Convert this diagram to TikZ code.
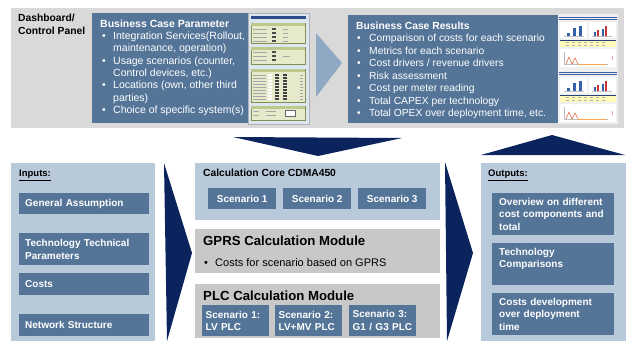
\documentclass[tikz,border=0pt]{standalone}
\usepackage{fontspec}
\setmainfont{Liberation Sans}
\definecolor{boxblue}{RGB}{84,117,152}
\definecolor{navy}{RGB}{12,36,94}
\definecolor{panelblue}{RGB}{184,201,218}
\definecolor{modgray}{RGB}{200,200,200}
\definecolor{dashgray}{RGB}{217,217,217}
\definecolor{lightarrow}{RGB}{143,168,196}
\definecolor{thumbbg}{RGB}{220,230,241}
\definecolor{formgreen}{RGB}{229,234,203}
\definecolor{formedge}{RGB}{128,143,80}
\definecolor{formhead}{RGB}{190,200,140}
\definecolor{chartblue}{RGB}{54,96,170}
\definecolor{chartred}{RGB}{200,50,50}
\definecolor{stripyellow}{RGB}{255,250,185}
\newcommand\bulA{\hspace*{2pt}\makebox[11pt][l]{•}}
\newcommand\indA{\hspace*{13pt}}
\newcommand\bulB{\hspace*{1pt}\makebox[12pt][l]{•}}
% fixes the height of a first line, so that its baseline lies 10pt below the node top
\newcommand\firstline{\rule{0pt}{10pt}}
\begin{document}
\begin{tikzpicture}[x=1pt,y=-1pt,
  bx/.style={fill=boxblue, text=white, font=\bfseries\fontsize{10}{12.5}\selectfont,
    inner ysep=0pt, inner xsep=6pt, anchor=north west, align=left},
  scen/.style={fill=boxblue, text=white, font=\bfseries\fontsize{10}{12.5}\selectfont,
    inner sep=0pt, anchor=north west, align=center, minimum width=68pt, minimum height=21pt},
  plcscen/.style={bx, inner xsep=3.5pt, minimum width=67pt, text width=60pt, minimum height=31pt},
  outbox/.style={bx, inner xsep=7pt, minimum width=122pt, text width=108pt, minimum height=42pt},
  inbox/.style={bx, minimum width=130pt, text width=118pt},
  plain/.style={inner sep=0pt, anchor=base west, align=left},
  block/.style={inner sep=0pt, anchor=north west, align=left},
  panel/.style={fill=panelblue, inner sep=0pt, anchor=north west},
  module/.style={fill=modgray, inner sep=0pt, anchor=north west, minimum width=245pt},
  bigbox/.style={fill=boxblue, inner sep=0pt, anchor=north west},
  formrow/.style={gray!70, line width=0.6pt}]

\useasboundingbox (0,0) rectangle (626,341);

% ---------- dashboard / control panel ----------
\node[fill=dashgray, inner sep=0pt, anchor=north west, minimum width=613pt, minimum height=120pt] (dash) at (11,8) {};
\node[block, font=\bfseries\fontsize{10.3}{13}\selectfont] (dashlabel) at (18,11) {\firstline Dashboard/\\Control Panel};

\node[bigbox, minimum width=158pt, minimum height=110pt] (bcp) at (92,13) {};
\node[block, text=white, font=\fontsize{10.5}{12.3}\selectfont] (bcptext) at (100,17)
  {\firstline\textbf{Business Case Parameter}\\
   \bulA Integration  Services(Rollout,\\
   \indA maintenance, operation)\\
   \bulA Usage scenarios (counter,\\
   \indA Control devices, etc.)\\
   \bulA Locations (own, other third\\
   \indA parties)\\
   \bulA Choice of specific system(s)};

% parameter form thumbnail
\fill[thumbbg] (248,13) rectangle (309,124);
\draw[gray!60, line width=0.4pt] (248,13) rectangle (309,124);
\fill[chartblue!80!black] (251,16) rectangle (306,19);
\foreach \ya/\yb in {23/43, 47/64, 69/102, 106/120} {
  \filldraw[fill=formgreen, draw=formedge, line width=0.4pt] (251,\ya) rectangle (305,\yb);
  \fill[formhead] (251.3,\ya+0.3) rectangle (304.7,\ya+3);
}
\foreach \r in {29,33,37,41} {
  \draw[formrow] (253,\r) -- (267,\r);
  \fill[black!70] (272,\r-1.2) rectangle (276,\r+1.2);
  \draw[formrow] (283,\r) -- (288,\r);
}
\foreach \r in {52,56,60} {
  \draw[formrow] (253,\r) -- (267,\r);
  \fill[black!70] (272,\r-1.2) rectangle (276,\r+1.2);
}
\draw[formrow] (283,56) -- (290,56);
\foreach \r in {75,78,81,84,87,90,93,96,99} {
  \draw[formrow] (253,\r) -- (266,\r);
  \fill[white] (268,\r-1.1) rectangle (272,\r+1.1);
  \fill[black!75] (275,\r-1.1) rectangle (279,\r+1.1);
  \fill[black!75] (283,\r-1.1) rectangle (287,\r+1.1);
  \draw[formrow] (300,\r) -- (303,\r);
}
\foreach \r in {111,115} {
  \draw[formrow] (253,\r) -- (259,\r);
  \draw[formrow] (266,\r) -- (276,\r);
}
\filldraw[fill=white, draw=black!60, line width=0.4pt] (285,110) rectangle (295,116);

\fill[lightarrow] (316,33) -- (342,63) -- (316,97) -- cycle;

\node[bigbox, minimum width=210pt, minimum height=108pt] (bcr) at (348,15) {};
\node[block, text=white, font=\fontsize{10.3}{12.5}\selectfont] (bcrtext) at (356,19)
  {\firstline\textbf{Business Case Results}\\
   \bulB Comparison of costs for each scenario\\
   \bulB Metrics for each scenario\\
   \bulB Cost drivers / revenue drivers\\
   \bulB Risk assessment\\
   \bulB Cost per meter reading\\
   \bulB Total CAPEX per technology\\
   \bulB Total OPEX over deployment time, etc.};

% results report thumbnail
\fill[gray!12] (558,14) rectangle (618,124);
\foreach \y in {16,71} {
  \draw[chartblue, line width=0.8pt] (559,\y+1) -- (617,\y+1);
  \draw[chartblue, line width=0.8pt] (559,\y+3.5) -- (617,\y+3.5);
  \fill[white] (560,\y+6) rectangle (587,\y+22);
  \fill[white] (589,\y+6) rectangle (616,\y+22);
  \fill[chartblue] (567,\y+17) rectangle (569.5,\y+20);
  \fill[chartblue] (573,\y+12) rectangle (575.5,\y+20);
  \fill[chartblue] (579,\y+10) rectangle (581.5,\y+20);
  \fill[chartblue] (594,\y+16) rectangle (596,\y+20);
  \fill[chartred] (597,\y+14) rectangle (599,\y+20);
  \fill[chartblue] (602,\y+13) rectangle (604,\y+20);
  \fill[chartred] (605,\y+10) rectangle (607,\y+20);
  \draw[gray!50, line width=0.3pt] (564,\y+20.3) -- (584,\y+20.3) (592,\y+20.3) -- (612,\y+20.3);
  \fill[stripyellow] (560,\y+24) rectangle (616,\y+31);
  \draw[chartblue!70!black, line width=0.6pt] (560,\y+24) -- (616,\y+24);
  \foreach \t in {566,572,578,584,590,596,602} {
    \draw[gray!60, line width=0.5pt] (\t,\y+26.5) -- (\t+3,\y+26.5) (\t,\y+29) -- (\t+3,\y+29);
  }
  \fill[white] (560,\y+33) rectangle (616,\y+51);
  \draw[gray!50, line width=0.3pt] (564,\y+36) -- (564,\y+48) -- (608,\y+48);
  \draw[chartred!70!orange, line width=0.45pt] (566,\y+48) -- (569,\y+41) -- (572,\y+48) -- (575,\y+42) -- (578,\y+48);
  \draw[orange!70, line width=0.4pt] (578,\y+48) -- (606,\y+48);
  \draw[chartred!40, line width=0.5pt] (612,\y+40) -- (612,\y+44);
}

% ---------- inputs ----------
\node[panel, minimum width=144pt, minimum height=178pt] (inputs) at (11,163) {};
\node[plain, font=\bfseries\fontsize{9.5}{12}\selectfont] (inlabel) at (19,176.5) {\underline{Inputs:}};
\node[inbox, minimum height=21pt] (ga) at (19,193) {General  Assumption};
\node[inbox, minimum height=32pt] (ttp) at (19,233) {Technology Technical\\Parameters};
\node[inbox, minimum height=22pt] (costs) at (19,273) {Costs};
\node[inbox, minimum height=22pt] (net) at (19,314) {Network Structure};

% flow chevrons
\fill[navy] (164,163) -- (192,253) -- (167,341) -- cycle;
\fill[navy] (445,162) -- (473,253) -- (447,341) -- cycle;
\fill[navy] (233,137) -- (402,138) -- (318,156) -- cycle;
\fill[navy] (481,155) -- (552,135) -- (625,155) -- cycle;

% ---------- calculation core ----------
\node[panel, minimum width=245pt, minimum height=57pt] (core) at (195,163) {};
\node[plain, font=\bfseries\fontsize{10.3}{12.5}\selectfont] (corelabel) at (203,176.7) {Calculation Core CDMA450};
\node[scen] (s1) at (208,188) {Scenario 1};
\node[scen] (s2) at (283,188) {Scenario 2};
\node[scen] (s3) at (358,188) {Scenario 3};

\node[module, minimum height=44pt] (gprs) at (195,229) {};
\node[plain, font=\bfseries\fontsize{13.2}{15}\selectfont] (gprslabel) at (203,245.7) {GPRS Calculation Module};
\node[plain, font=\fontsize{11}{13}\selectfont] (gprstext) at (204,266) {\makebox[11pt][l]{•}Costs for scenario based on GPRS};

\node[module, minimum height=54pt] (plc) at (195,284) {};
\node[plain, font=\bfseries\fontsize{13.2}{15}\selectfont] (plclabel) at (203,300.7) {PLC Calculation Module};
\node[plcscen] (p1) at (202,305) {Scenario 1:\\LV PLC};
\node[plcscen] (p2) at (275,305) {Scenario 2:\\LV+MV PLC};
\node[plcscen] (p3) at (349,305) {Scenario 3:\\G1 / G3 PLC};

% ---------- outputs ----------
\node[panel, minimum width=145pt, minimum height=178pt] (outputs) at (481,163) {};
\node[plain, font=\bfseries\fontsize{9.5}{12}\selectfont] (outlabel) at (488,176.5) {\underline{Outputs:}};
\node[outbox] (o1) at (492,193) {Overview on different\\cost components and\\total};
\node[outbox] (o2) at (492,243) {Technology\\Comparisons\\\mbox{}};
\node[outbox] (o3) at (492,293) {Costs development\\over deployment\\time};
\end{tikzpicture}
\end{document}
